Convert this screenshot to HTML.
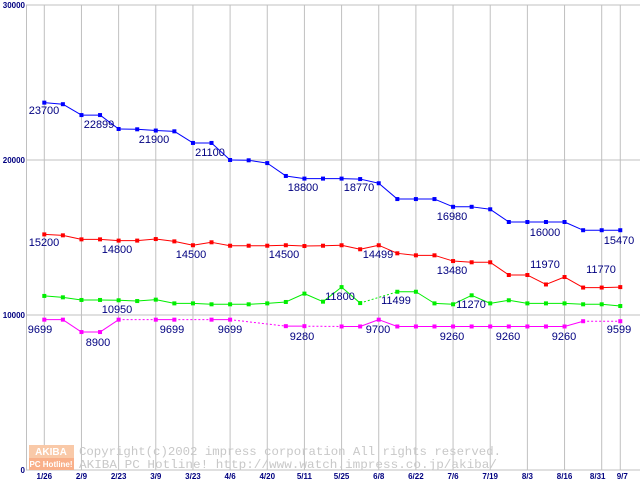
<!DOCTYPE html>
<html><head><meta charset="utf-8"><style>
html,body{margin:0;padding:0;background:#fff;}
svg{display:block;font-family:"Liberation Sans",sans-serif;}
</style></head><body>
<svg id="chart" width="640" height="480" xmlns="http://www.w3.org/2000/svg">
<g id="grid"></g>
<g id="wm">
<rect x="29" y="445" width="45" height="13" fill="#f9c9a8"/>
<rect x="29" y="458" width="45" height="12" fill="#f9b08a"/>
<text x="51" y="455" font-size="10" font-weight="bold" fill="#fff" text-anchor="middle">AKIBA</text>
<text x="51" y="467" font-size="8" font-weight="bold" fill="#fff" text-anchor="middle">PC Hotline!</text>
<text x="79" y="455" font-size="12" fill="#c8c8c8" font-family="Liberation Mono,monospace" textLength="422" lengthAdjust="spacingAndGlyphs">Copyright(c)2002 impress corporation All rights reserved.</text>
<text x="79" y="468" font-size="12" fill="#c8c8c8" font-family="Liberation Mono,monospace" textLength="418" lengthAdjust="spacingAndGlyphs">AKIBA PC Hotline!  http://www.watch.impress.co.jp/akiba/</text>
</g>
<g id="series"></g>
<g id="labels"></g>
</svg>
<script>
const xLabels = {0:"1/26",2:"2/9",4:"2/23",6:"3/9",8:"3/23",10:"4/6",12:"4/20",14:"5/11",16:"5/25",18:"6/8",20:"6/22",22:"7/6",24:"7/19",26:"8/3",28:"8/16",30:"8/31",31:"9/7"};
const yTicks = [0,10000,20000,30000];
const blue = [23700,23600,22899,22899,22000,21980,21900,21850,21100,21100,20000,19980,19800,18970,18800,18800,18800,18770,18500,17480,17480,17480,16980,16980,16820,16000,16000,16000,16000,15470,15470,15470];
const red = [15200,15140,14880,14880,14800,14800,14900,14750,14500,14690,14470,14470,14470,14500,14450,14470,14500,14240,14499,13980,13850,13850,13480,13400,13400,12580,12580,11970,12450,11770,11770,11800];
const green = [11230,11140,10970,10970,10950,10900,10990,10750,10750,10690,10690,10690,10750,10840,11380,10860,11800,10770,null,11499,11500,10750,10690,11270,10750,10950,10750,10750,10750,10690,10690,10580];
const magenta = [9699,9699,8900,8900,9699,null,9699,9699,null,9699,9699,null,null,9280,9280,null,9260,9260,9700,9260,9260,9260,9260,9260,9260,9260,9260,9260,9260,9599,null,9599];
const labels = [
 ["23700",0,44,114],["22899",3,99,128],["21900",6,154,143],["21100",9,210,156],["18800",15,303,191],["18770",17,359,191],["16980",22,452,220],["16000",27,545,236],["15470",31,619,244],
 ["15200",0,44,246],["14800",4,117,253],["14500",8,191,258],["14500",13,284,258],["14499",18,378,258],["13480",22,452,274],["11970",27,545,268],["11770",30,601,273],
 ["10950",4,117,313],["11800",16,340,300],["11499",19,396,304],["11270",23,471,308],
 ["9699",0,40,333],["8900",2,98,346],["9699",6,172,333],["9699",10,230,333],["9280",14,302,340],["9700",18,378,333],["9260",22,452,340],["9260",25,508,340],["9260",28,564,340],["9599",31,619,333]
];
const NS="http://www.w3.org/2000/svg";
const X0=44.3, DX=18.58, Y0=470, YTOP=5;
function xs(i){return X0+DX*i;}
function ys(v){return Y0-(v/30000)*(Y0-YTOP);}
const grid=document.getElementById('grid');
function mk(tag,attrs,parent){const e=document.createElementNS(NS,tag);for(const k in attrs)e.setAttribute(k,attrs[k]);parent.appendChild(e);return e;}
yTicks.forEach(v=>{
 const l=mk('line',{x1:26,x2:640,y1:ys(v),y2:ys(v),stroke:'#c0c0c0','stroke-width':1},grid);
 
 
 const t=mk('text',{x:25,y:ys(v)+3,'font-size':8,'font-weight':'bold',fill:'#000080','text-anchor':'end'},grid);
 t.textContent=String(v);
 
 
});
const ax=mk('line',{x1:26.5,x2:26.5,y1:5,y2:470,stroke:'#c0c0c0'},grid);


for(const k in xLabels){
 const i=+k;
 const l=mk('line',{x1:xs(i),x2:xs(i),y1:5,y2:470,stroke:'#c0c0c0'},grid);
 
 
 const t=mk('text',{x:xs(i)-(i==30?4:(i==31?-2:0)),y:479,'font-size':8,'font-weight':'bold',fill:'#000080','text-anchor':'middle'},grid);
 t.textContent=xLabels[k];
 
 
}
const sg=document.getElementById('series');
function drawSeries(arr,color,name){
 const g=mk('g',{},sg);
 
 
 let prev=-1;
 for(let i=0;i<arr.length;i++){
  if(arr[i]==null)continue;
  if(prev>=0){
   const dashed=(i-prev>1);
   const l=mk('line',{x1:xs(prev),y1:ys(arr[prev]),x2:xs(i),y2:ys(arr[i]),stroke:color,'stroke-width':1},g);
   if(dashed)l.setAttribute('stroke-dasharray','2,2');
   
   
  }
  const p=mk('rect',{x:xs(i)-2,y:ys(arr[i])-2,width:4,height:4,fill:color},g);
  
  
  prev=i;
 }
}
drawSeries(blue,'#0000ff','blue-series');
drawSeries(red,'#ff0000','red-series');
drawSeries(green,'#00ee00','green-series');
drawSeries(magenta,'#ff00ff','magenta-series');
const lg=document.getElementById('labels');
labels.forEach(a=>{
 const t=mk('text',{x:a[2],y:a[3],'font-size':11,fill:'#000080','text-anchor':'middle'},lg);
 t.textContent=a[0];
 
 
});
</script>
</body></html>
